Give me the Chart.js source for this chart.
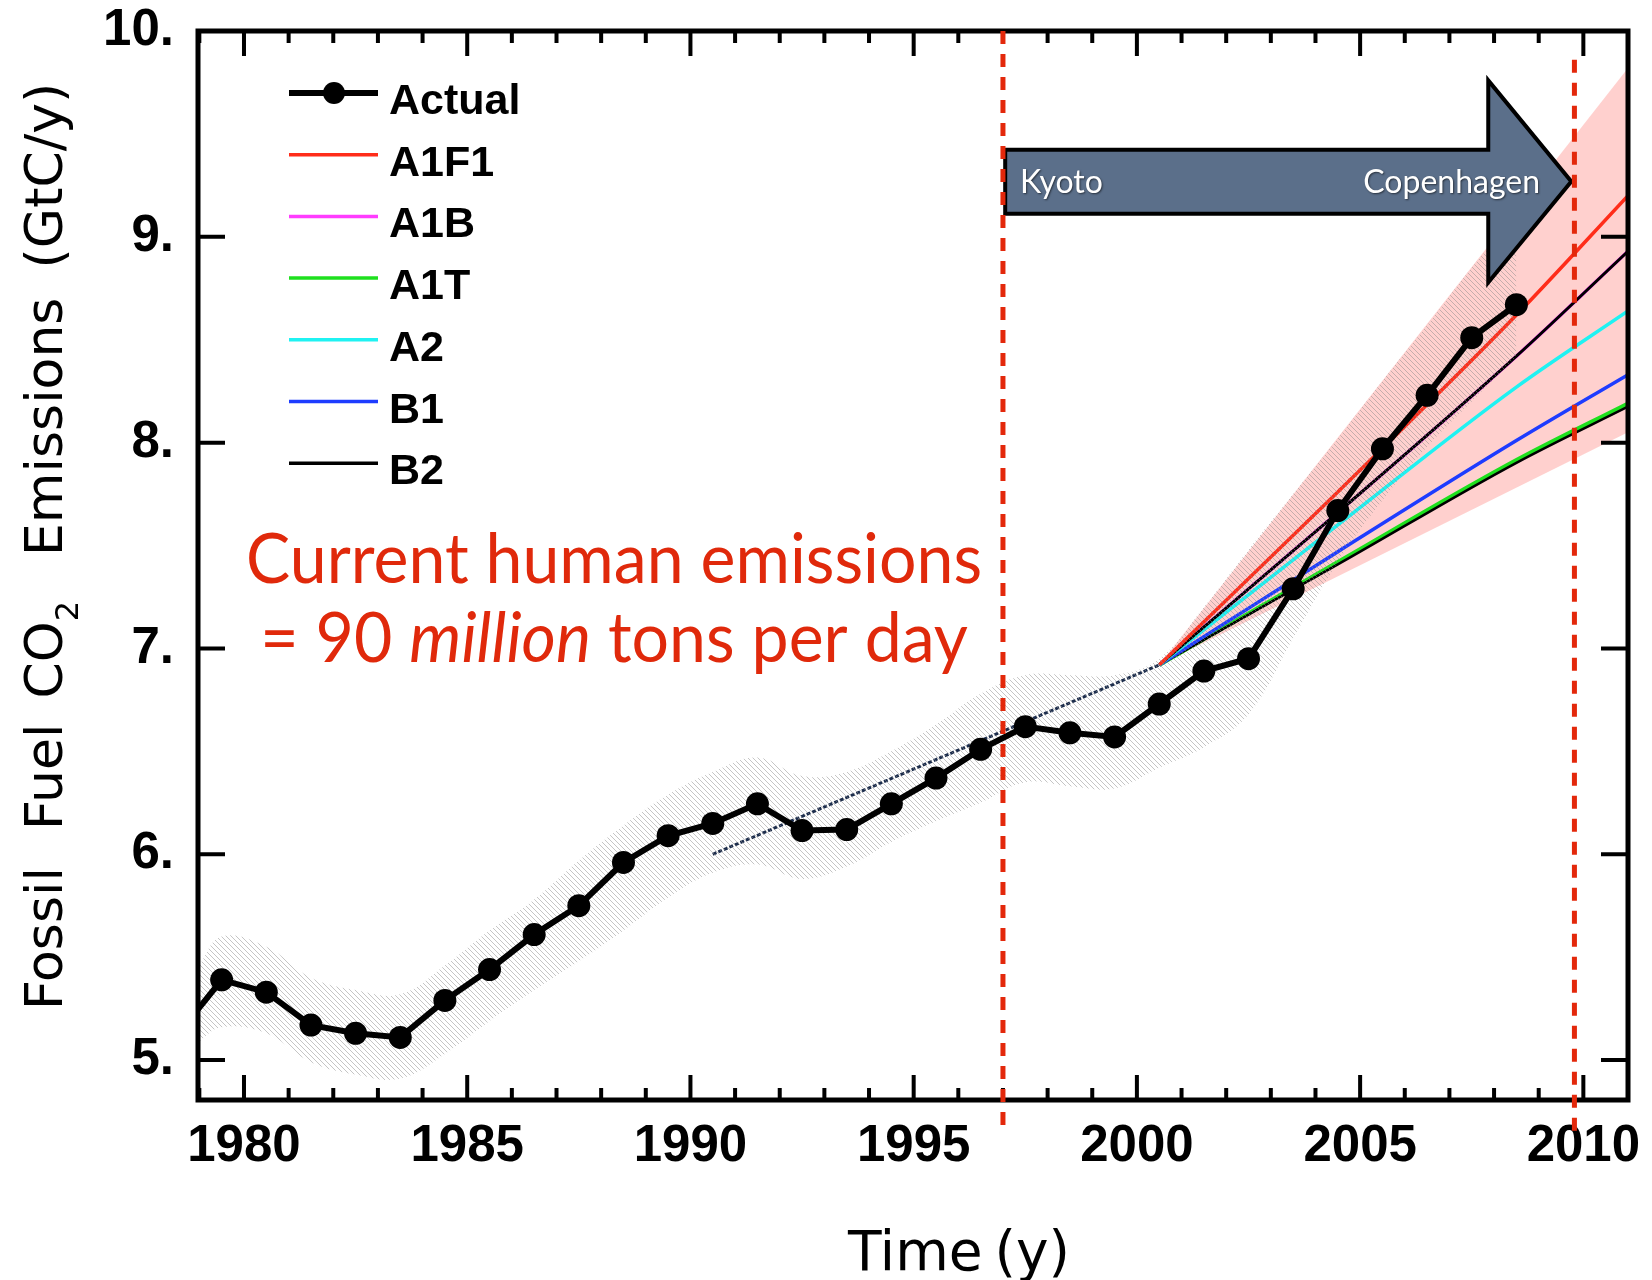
<!DOCTYPE html>
<html>
<head>
<meta charset="utf-8">
<script src="https://cdn.jsdelivr.net/npm/chart.js@4.4.1/dist/chart.umd.min.js"></script>
<style>
  html, body { margin: 0; padding: 0; background: #fff; }
  #wrap { width: 1652px; height: 1280px; }
</style>
</head>
<body>
<div id="wrap"><canvas id="chart" width="1652" height="1280"></canvas></div>
<script>
// observed fossil fuel emissions (GtC/y), plotted at mid-year
const actualYears = [1978.5, 1979.5, 1980.5, 1981.5, 1982.5, 1983.5, 1984.5, 1985.5, 1986.5, 1987.5,
    1988.5, 1989.5, 1990.5, 1991.5, 1992.5, 1993.5, 1994.5, 1995.5, 1996.5, 1997.5,
    1998.5, 1999.5, 2000.5, 2001.5, 2002.5, 2003.5, 2004.5, 2005.5, 2006.5, 2007.5, 2008.5];
const actualValues = [5.12, 5.39, 5.33, 5.17, 5.13, 5.11, 5.29, 5.44, 5.61, 5.75,
    5.96, 6.09, 6.15, 6.245, 6.115, 6.12, 6.245, 6.37, 6.51, 6.62,
    6.59, 6.57, 6.73, 6.89, 6.95, 7.29, 7.67, 7.97, 8.23, 8.51, 8.67];

// uncertainty band (hatched)
const bandYears = [1978.5, 1979, 1979.5, 1980.5, 1981.5, 1982.5, 1983.5, 1984.5, 1985.5, 1986.5,
    1987.5, 1988.5, 1989.5, 1990.5, 1991.5, 1992.5, 1993.5, 1994.5, 1995.5, 1996.5,
    1997.5, 1998.5, 1999.5, 2000.5, 2001.5, 2002.5, 2003.5, 2004.5, 2005.5, 2006.5, 2007.5, 2008.5];
const bandUpper = [5.30, 5.46, 5.60, 5.55, 5.40, 5.34, 5.32, 5.46, 5.63, 5.78,
    5.97, 6.14, 6.29, 6.40, 6.47, 6.38, 6.40, 6.50, 6.63, 6.78,
    6.87, 6.87, 6.87, 6.95, 7.20, 7.48, 7.75, 8.02, 8.30, 8.57, 8.85, 9.10];
const bandLower = [4.98, 5.09, 5.16, 5.13, 4.99, 4.93, 4.91, 5.03, 5.19, 5.34,
    5.48, 5.63, 5.79, 5.91, 5.95, 5.88, 5.94, 6.06, 6.16, 6.25,
    6.35, 6.33, 6.32, 6.42, 6.52, 6.68, 7.05, 7.42, 7.72, 7.98, 8.20, 8.42];

// 1990-2000 trend line
const trendYears = [1990.5, 2000.5];
const trendValues = [6.0, 6.92];

// IPCC SRES scenarios
const scenarioYears = [2000.5, 2004.5, 2008.5, 2011];
const a1f1 = [6.92, 7.76, 8.62, 9.20];
const a1b = [6.92, 7.66, 8.42, 8.93];
const a1t = [6.92, 7.42, 7.915, 8.19];
const a2 = [6.92, 7.60, 8.27, 8.64];
const b1 = [6.92, 7.47, 8.01, 8.33];
const b2 = [6.92, 7.66, 8.42, 8.93];
const a1tEdge = [6.92, 7.408, 7.902, 8.175];

// scenario envelope (pink)
const envelopeYears = [2000.5, 2011];
const envelopeUpper = [6.92, 9.82];
const envelopeLower = [6.92, 8.05];

const yTicks = [5, 6, 7, 8, 9, 10];
const xLabelYears = [1980, 1985, 1990, 1995, 2000, 2005, 2010];
const legendLabels = ['Actual', 'A1F1', 'A1B', 'A1T', 'A2', 'B1', 'B2'];

const kyotoYear = 1997.0;
const copenhagenYear = 2009.8;

function pts(xs, ys) {
    return xs.map((x, i) => ({x: x, y: ys[i]}));
}

function makeHatch(ctx) {
    const s = 5;
    const c = document.createElement('canvas');
    c.width = s;
    c.height = s;
    const g = c.getContext('2d');
    g.strokeStyle = 'rgba(140,140,140,0.5)';
    g.lineWidth = 1;
    g.beginPath();
    g.moveTo(-1, -1); g.lineTo(s + 1, s + 1);
    g.moveTo(-1, s - 1); g.lineTo(1, s + 1);
    g.moveTo(s - 1, -1); g.lineTo(s + 1, 1);
    g.stroke();
    return ctx.createPattern(c, 'repeat');
}

function lineSet(label, xs, ys, color, width, extra) {
    return Object.assign({
        label: label,
        data: pts(xs, ys),
        borderColor: color,
        backgroundColor: color,
        borderWidth: width,
        pointRadius: 0,
        fill: false,
        cubicInterpolationMode: 'monotone',
        clip: 0,
    }, extra || {});
}

// draws a run of text pieces with their own fonts, starting at x along the baseline
function drawPieces(ctx, pieces, startX, baseY) {
    let cx = startX;
    pieces.forEach((p) => {
        ctx.font = p.font;
        ctx.fillText(p.text, cx, baseY + (p.dy || 0));
        cx += ctx.measureText(p.text).width + (p.gap || 0);
    });
}

function piecesWidth(ctx, pieces) {
    let w = 0;
    pieces.forEach((p) => {
        ctx.font = p.font;
        w += ctx.measureText(p.text).width + (p.gap || 0);
    });
    return w;
}

const decorPlugin = {
    id: 'decor',
    afterDatasetsDraw(chart) {
        const {ctx, chartArea: a, scales: {x, y}} = chart;
        ctx.save();

        // inward ticks on all four sides
        ctx.strokeStyle = '#000';
        ctx.lineWidth = 4;
        ctx.beginPath();
        x.ticks.forEach((t) => {
            const px = x.getPixelForValue(t.value);
            const len = xLabelYears.includes(t.value) ? 25 : 12;
            ctx.moveTo(px, a.bottom); ctx.lineTo(px, a.bottom - len);
            ctx.moveTo(px, a.top); ctx.lineTo(px, a.top + len);
        });
        y.ticks.forEach((t) => {
            const py = y.getPixelForValue(t.value);
            ctx.moveTo(a.left, py); ctx.lineTo(a.left + 27, py);
            ctx.moveTo(a.right, py); ctx.lineTo(a.right - 27, py);
        });
        ctx.stroke();

        ctx.lineWidth = 5;
        ctx.strokeRect(a.left, a.top, a.right - a.left, a.bottom - a.top);

        // Kyoto -> Copenhagen arrow
        const ax0 = x.getPixelForValue(1997.05);
        const axHead = x.getPixelForValue(2007.87);
        const axTip = x.getPixelForValue(2009.73);
        ctx.beginPath();
        ctx.moveTo(ax0, y.getPixelForValue(9.423));
        ctx.lineTo(axHead, y.getPixelForValue(9.423));
        ctx.lineTo(axHead, y.getPixelForValue(9.76));
        ctx.lineTo(axTip, y.getPixelForValue(9.269));
        ctx.lineTo(axHead, y.getPixelForValue(8.778));
        ctx.lineTo(axHead, y.getPixelForValue(9.112));
        ctx.lineTo(ax0, y.getPixelForValue(9.112));
        ctx.closePath();
        ctx.fillStyle = '#5b6f8a';
        ctx.fill();
        ctx.lineWidth = 4;
        ctx.lineJoin = 'miter';
        ctx.strokeStyle = '#000';
        ctx.stroke();

        ctx.save();
        ctx.fillStyle = '#fff';
        ctx.shadowColor = 'rgba(0,0,0,0.55)';
        ctx.shadowBlur = 2;
        ctx.shadowOffsetX = 1;
        ctx.shadowOffsetY = 1;
        ctx.font = '32px Lato';
        ctx.textBaseline = 'alphabetic';
        ctx.textAlign = 'left';
        ctx.fillText('Kyoto', x.getPixelForValue(1997.38), y.getPixelForValue(9.214));
        ctx.textAlign = 'right';
        ctx.fillText('Copenhagen', x.getPixelForValue(2009.03), y.getPixelForValue(9.214));
        ctx.restore();

        // Kyoto and Copenhagen markers
        ctx.strokeStyle = '#e3280b';
        ctx.lineWidth = 5;
        ctx.setLineDash([13, 10]);
        ctx.beginPath();
        ctx.moveTo(x.getPixelForValue(kyotoYear), y.getPixelForValue(10));
        ctx.lineTo(x.getPixelForValue(kyotoYear), y.getPixelForValue(4.645));
        ctx.moveTo(x.getPixelForValue(copenhagenYear), y.getPixelForValue(9.86));
        ctx.lineTo(x.getPixelForValue(copenhagenYear), y.getPixelForValue(4.645));
        ctx.stroke();
        ctx.setLineDash([]);

        // red annotation, squeezed a little to mimic the narrower original face
        ctx.fillStyle = '#e0290b';
        ctx.textAlign = 'left';
        ctx.textBaseline = 'alphabetic';
        const cx = x.getPixelForValue(1988.29);
        const line1 = [{text: 'Current human emissions', font: '70px Lato'}];
        const line2 = [
            {text: '= 90 ', font: '70px Lato'},
            {text: 'million', font: 'italic 70px Lato'},
            {text: ' tons per day', font: '70px Lato'},
        ];
        const w1 = piecesWidth(ctx, line1);
        const w2 = piecesWidth(ctx, line2);
        const sx = 736 / w1;
        [[line1, w1, 7.316], [line2, w2, 6.932]].forEach(([pieces, w, v]) => {
            ctx.save();
            ctx.translate(cx, y.getPixelForValue(v));
            ctx.scale(sx, 1);
            drawPieces(ctx, pieces, -w / 2, 0);
            ctx.restore();
        });

        // legend
        const lx = a.left + 91;
        legendLabels.forEach((label, i) => {
            const ds = chart.data.datasets.find((d) => d.label === label);
            const ly = a.top + 62 + i * 61.7;
            ctx.strokeStyle = ds.borderColor;
            ctx.lineWidth = label === 'Actual' ? 6 : 3.5;
            ctx.beginPath();
            ctx.moveTo(lx, ly);
            ctx.lineTo(lx + 89, ly);
            ctx.stroke();
            if (label === 'Actual') {
                ctx.fillStyle = '#000';
                ctx.beginPath();
                ctx.arc(lx + 45, ly, 11, 0, Math.PI * 2);
                ctx.fill();
            }
            ctx.fillStyle = '#000';
            ctx.font = 'bold 43px "Liberation Sans"';
            ctx.fillText(label, lx + 100, ly + 21);
        });

        // axis titles
        ctx.fillStyle = '#000';
        ctx.save();
        ctx.translate(62, 1010);
        ctx.rotate(-Math.PI / 2);
        const f = '52px "DejaVu Sans"';
        const yTitle = [
            {text: 'Fossil', font: f, gap: 37},
            {text: 'Fuel', font: f, gap: 25},
            {text: 'CO', font: f},
            {text: '2', font: '32px "DejaVu Sans"', dy: 16, gap: 45},
            {text: 'Emissions', font: f, gap: 29},
            {text: '(GtC/y)', font: f},
        ];
        drawPieces(ctx, yTitle, 0, 0);
        ctx.restore();

        const xTitle = [
            {text: 'Time', font: '55px "DejaVu Sans"', gap: 12},
            {text: '(y)', font: '55px "DejaVu Sans"'},
        ];
        drawPieces(ctx, xTitle, 959 - piecesWidth(ctx, xTitle) / 2, 1270);

        ctx.restore();
    }
};

document.addEventListener('DOMContentLoaded', () => {
    const canvas = document.getElementById('chart');
    const ctx = canvas.getContext('2d');
    const hatch = makeHatch(ctx);

    const xTickYears = [];
    for (let yr = 1979; yr <= 2011; yr++) {
        xTickYears.push(yr);
    }

    new Chart(canvas, {
        type: 'line',
        data: {
            datasets: [
                lineSet('Actual', actualYears, actualValues, '#000', 6, {
                    pointRadius: 11.5,
                    pointBackgroundColor: '#000',
                    pointBorderWidth: 0,
                    cubicInterpolationMode: 'default',
                    tension: 0,
                }),
                {
                    label: 'band upper',
                    data: pts(bandYears, bandUpper),
                    borderWidth: 0,
                    borderColor: 'rgba(0,0,0,0)',
                    pointRadius: 0,
                    tension: 0.4,
                    fill: '+1',
                    backgroundColor: hatch,
                },
                {
                    label: 'band lower',
                    data: pts(bandYears, bandLower),
                    borderWidth: 0,
                    borderColor: 'rgba(0,0,0,0)',
                    pointRadius: 0,
                    tension: 0.4,
                    fill: false,
                },
                lineSet('A1F1', scenarioYears, a1f1, '#ff2d1a', 3.5),
                lineSet('B2', scenarioYears, b2, '#000', 3),
                lineSet('A2', scenarioYears, a2, '#1ff2f2', 3.5),
                lineSet('B1', scenarioYears, b1, '#1e3cff', 3.5),
                lineSet('A1T edge', scenarioYears, a1tEdge, '#000', 2.6),
                lineSet('A1T', scenarioYears, a1t, '#1ee01e', 4),
                lineSet('A1B', scenarioYears, a1b, '#ff3cff', 3.5),
                lineSet('trend', trendYears, trendValues, '#1c2d4d', 3, {borderDash: [4, 2]}),
                {
                    label: 'envelope upper',
                    data: pts(envelopeYears, envelopeUpper),
                    borderWidth: 0,
                    borderColor: 'rgba(0,0,0,0)',
                    pointRadius: 0,
                    fill: '+1',
                    backgroundColor: 'rgba(255,170,165,0.55)',
                },
                {
                    label: 'envelope lower',
                    data: pts(envelopeYears, envelopeLower),
                    borderWidth: 0,
                    borderColor: 'rgba(0,0,0,0)',
                    pointRadius: 0,
                    fill: false,
                },
            ]
        },
        options: {
            responsive: false,
            animation: false,
            devicePixelRatio: 1,
            layout: {
                padding: {top: 31, right: 24, left: 0, bottom: 0}
            },
            plugins: {
                legend: {display: false},
                tooltip: {enabled: false},
            },
            scales: {
                x: {
                    type: 'linear',
                    min: 1978.97,
                    max: 2011,
                    grid: {display: false, drawTicks: false},
                    border: {display: false},
                    afterBuildTicks: (scale) => {
                        scale.ticks = xTickYears.map((v) => ({value: v}));
                    },
                    afterFit: (scale) => {
                        scale.height = 180;
                        scale.paddingLeft = 0;
                        scale.paddingRight = 0;
                    },
                    ticks: {
                        autoSkip: false,
                        maxRotation: 0,
                        minRotation: 0,
                        padding: 16,
                        color: '#000',
                        font: {family: '"Liberation Sans"', size: 51, weight: 'bold'},
                        callback: (v) => xLabelYears.includes(v) ? String(v) : '',
                    }
                },
                y: {
                    min: 4.806,
                    max: 10,
                    grid: {display: false, drawTicks: false},
                    border: {display: false},
                    afterBuildTicks: (scale) => {
                        scale.ticks = yTicks.map((v) => ({value: v}));
                    },
                    afterFit: (scale) => {
                        scale.width = 198;
                        scale.paddingTop = 0;
                        scale.paddingBottom = 0;
                    },
                    ticks: {
                        padding: 24,
                        color: '#000',
                        font: {family: '"Liberation Sans"', size: 51, weight: 'bold'},
                        callback: (v) => v + '.',
                    }
                }
            }
        },
        plugins: [decorPlugin]
    });
});
</script>
</body>
</html>
